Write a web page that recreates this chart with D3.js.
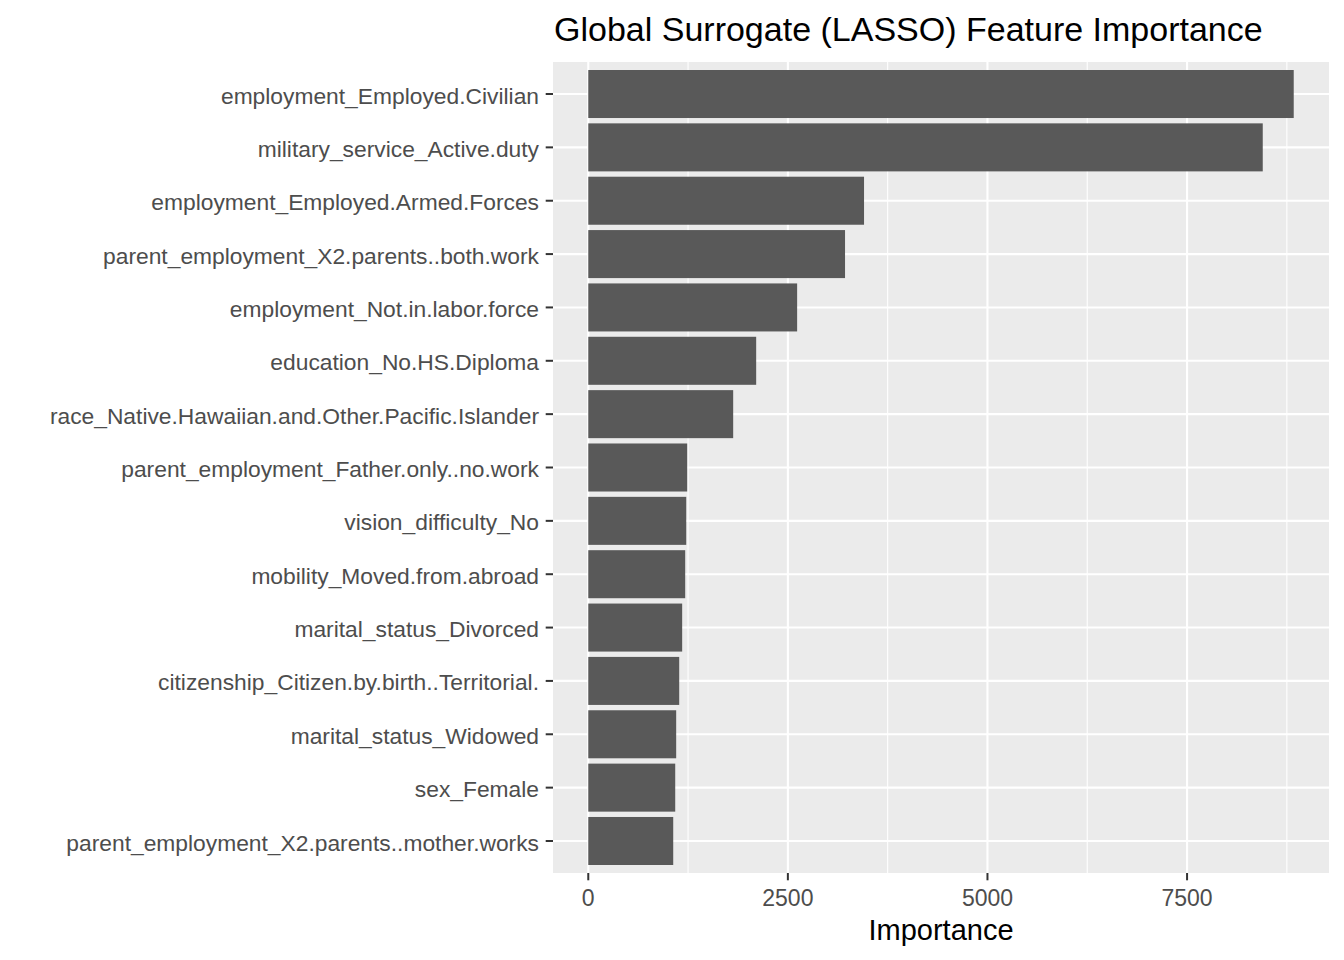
<!DOCTYPE html>
<html>
<head>
<meta charset="utf-8">
<script src="https://cdn.jsdelivr.net/npm/d3@7"></script>
<style>
  body { margin: 0; background: #fff; }
  svg text { font-family: "Liberation Sans", Arial, sans-serif; }
</style>
</head>
<body>
<div id="chart"></div>
<script>
// data (top to bottom)
const features = [
  "employment_Employed.Civilian",
  "military_service_Active.duty",
  "employment_Employed.Armed.Forces",
  "parent_employment_X2.parents..both.work",
  "employment_Not.in.labor.force",
  "education_No.HS.Diploma",
  "race_Native.Hawaiian.and.Other.Pacific.Islander",
  "parent_employment_Father.only..no.work",
  "vision_difficulty_No",
  "mobility_Moved.from.abroad",
  "marital_status_Divorced",
  "citizenship_Citizen.by.birth..Territorial.",
  "marital_status_Widowed",
  "sex_Female",
  "parent_employment_X2.parents..mother.works"
];
const importance = [8836, 8448, 3454, 3216, 2616, 2103, 1815, 1239, 1227, 1214, 1176, 1139, 1101, 1089, 1064];
const xTicks = [0, 2500, 5000, 7500];
const xMinor = [1250, 3750, 6250, 8750];

const width = 1344, height = 960;
const margin = {top: 62, right: 15, bottom: 87, left: 553};
const pw = width - margin.left - margin.right;
const ph = height - margin.top - margin.bottom;

const svg = d3.select("#chart").append("svg")
  .attr("width", width)
  .attr("height", height);

const g = svg.append("g")
  .attr("transform", "translate(" + margin.left + "," + margin.top + ")");

// ggplot style expansion: 5% on continuous, 0.6 units on discrete
const xmax = d3.max(importance);
const x = d3.scaleLinear()
  .domain([-0.05 * xmax, xmax * 1.05])
  .range([0, pw]);

const n = features.length;
const y = d3.scaleLinear()
  .domain([0.4, n + 0.6])
  .range([0, ph]);
const barH = (y(1) - y(0)) * 0.9;

// panel
g.append("rect")
  .attr("width", pw).attr("height", ph)
  .attr("fill", "#EBEBEB");

g.selectAll(".minor")
  .data(xMinor)
  .join("line")
  .attr("x1", d => x(d)).attr("x2", d => x(d))
  .attr("y1", 0).attr("y2", ph)
  .attr("stroke", "#fff").attr("stroke-width", 1.1);

g.selectAll(".majorx")
  .data(xTicks)
  .join("line")
  .attr("x1", d => x(d)).attr("x2", d => x(d))
  .attr("y1", 0).attr("y2", ph)
  .attr("stroke", "#fff").attr("stroke-width", 2.1);

g.selectAll(".majory")
  .data(features)
  .join("line")
  .attr("x1", 0).attr("x2", pw)
  .attr("y1", (d, i) => y(i + 1)).attr("y2", (d, i) => y(i + 1))
  .attr("stroke", "#fff").attr("stroke-width", 2.1);

// bars
g.selectAll(".bar")
  .data(importance)
  .join("rect")
  .attr("x", x(0))
  .attr("y", (d, i) => y(i + 1) - barH / 2)
  .attr("width", d => x(d) - x(0))
  .attr("height", barH)
  .attr("fill", "#595959");

// y axis
const ya = g.append("g");
ya.selectAll("line")
  .data(features)
  .join("line")
  .attr("x1", -7.3).attr("x2", 0)
  .attr("y1", (d, i) => y(i + 1)).attr("y2", (d, i) => y(i + 1))
  .attr("stroke", "#333").attr("stroke-width", 2);
ya.selectAll("text")
  .data(features)
  .join("text")
  .attr("x", -14)
  .attr("y", (d, i) => y(i + 1))
  .attr("dy", "0.42em")
  .attr("text-anchor", "end")
  .attr("fill", "#4D4D4D")
  .style("font-size", "22.8px")
  .text(d => d);

// x axis
const xa = g.append("g").attr("transform", "translate(0," + ph + ")");
xa.selectAll("line")
  .data(xTicks)
  .join("line")
  .attr("x1", d => x(d)).attr("x2", d => x(d))
  .attr("y1", 0).attr("y2", 7.3)
  .attr("stroke", "#333").attr("stroke-width", 2);
xa.selectAll("text")
  .data(xTicks)
  .join("text")
  .attr("x", d => x(d))
  .attr("y", 33)
  .attr("text-anchor", "middle")
  .attr("fill", "#4D4D4D")
  .style("font-size", "23px")
  .text(d => d);

// axis title
g.append("text")
  .attr("x", pw / 2)
  .attr("y", ph + 67)
  .attr("text-anchor", "middle")
  .attr("fill", "#000")
  .style("font-size", "29px")
  .text("Importance");

// title
svg.append("text")
  .attr("x", margin.left + 1)
  .attr("y", 41)
  .attr("fill", "#000")
  .style("font-size", "34px")
  .text("Global Surrogate (LASSO) Feature Importance");
</script>
</body>
</html>
